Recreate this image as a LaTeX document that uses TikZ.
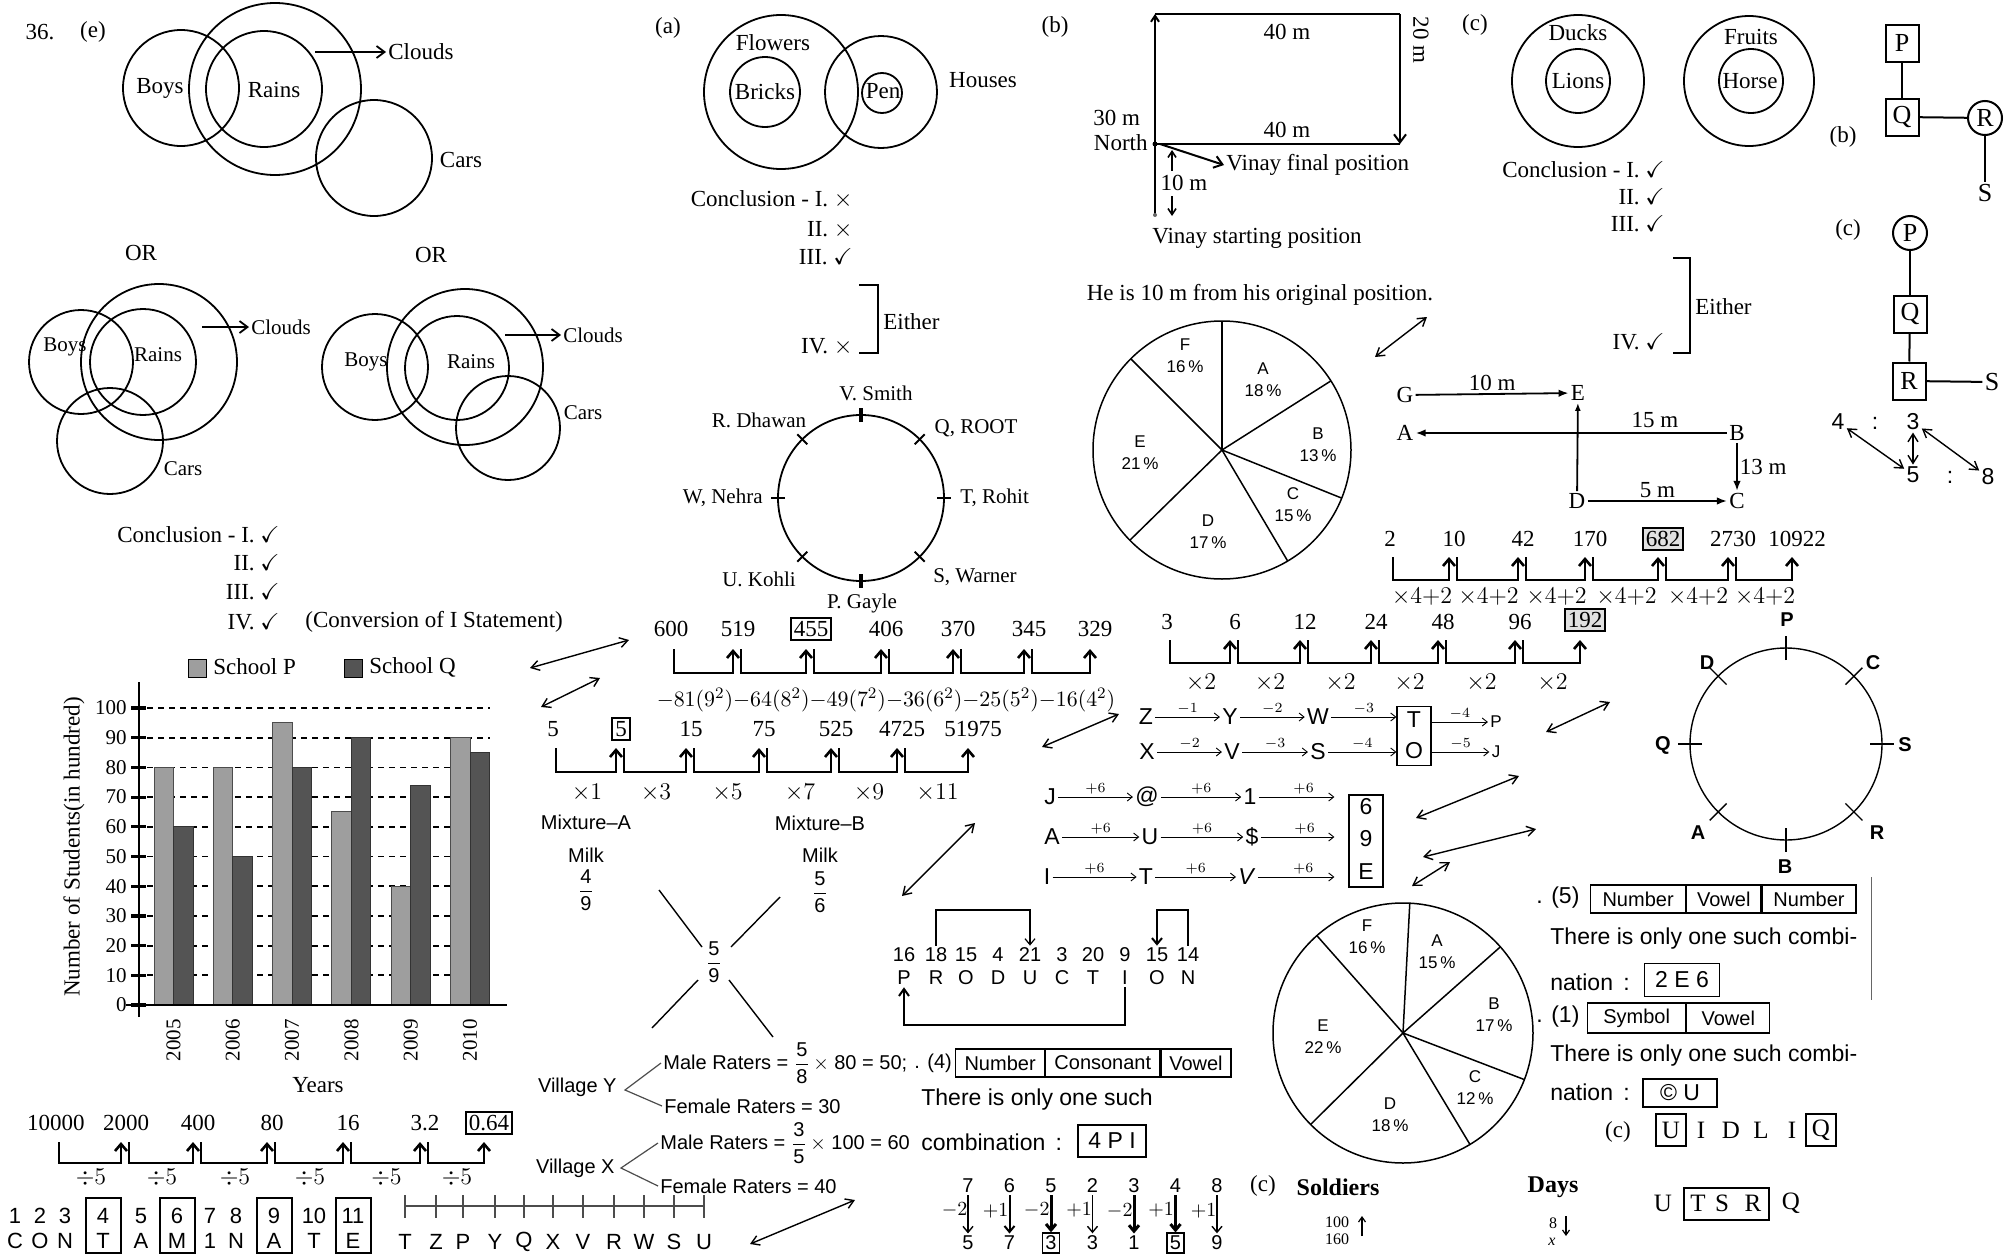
\documentclass[tikz,border=0pt]{standalone}
\usepackage{amsmath,amssymb}
\usepackage{fontspec}
\setmainfont{Liberation Serif}
\setsansfont{Liberation Sans}
\usetikzlibrary{arrows.meta,calc}
\definecolor{barP}{gray}{0.62}
\definecolor{barQ}{gray}{0.33}
\begin{document}
\begin{tikzpicture}[x=0.5pt,y=-0.5pt,
  every node/.style={inner sep=1pt},
  serifl/.style={font=\fontsize{11.5}{13}\selectfont},
  serifm/.style={font=\fontsize{10.5}{12}\selectfont},
  serifs/.style={font=\fontsize{8}{9}\selectfont},
  sansl/.style={font=\sffamily\fontsize{11.5}{13}\selectfont},
  sansm/.style={font=\sffamily\fontsize{10}{12}\selectfont},
  sanss/.style={font=\sffamily\fontsize{8.5}{11}\selectfont},
  sanst/.style={font=\sffamily\fontsize{7.5}{8}\selectfont},
  plainnum/.style={},
  vennline/.style={line width=0.9pt},
  vennarr/.style={line width=0.9pt,-{Straight Barb[length=4pt,width=6pt]}},
  seqjump/.style={line width=1.3pt,-{Straight Barb[length=3.5pt,width=6pt]}},
  boxnum/.style={draw,line width=0.9pt,inner sep=1.5pt},
  shiftarr/.style={line width=0.45pt,-{Straight Barb[length=2.5pt,width=4pt]}},
  dblarr/.style={line width=0.7pt,{Straight Barb[length=4pt,width=5pt]}-{Straight Barb[length=4pt,width=5pt]}},
  walkline/.style={line width=1pt},
  pieline/.style={line width=0.75pt},
  seattick/.style={line width=0.9pt},
  tabcell/.style={draw,line width=0.6pt,minimum height=14pt,inner sep=0pt,anchor=west,font=\sffamily\fontsize{10}{12}\selectfont},
  ansbox/.style={draw,line width=0.7pt,inner sep=0pt},
  gridline/.style={dash pattern=on 3pt off 2.5pt,line width=0.9pt},
]
\fill[white] (0,0) rectangle (2010,1258);
\useasboundingbox (0,0) rectangle (2010,1258);

% ---- 36 (e): Venn diagrams
\node[serifl] (q36) at (40,32) {36.};
\node[serifl] (e36) at (93,32) {(e)};
\draw[vennline] (181,88) circle[radius=58] (275,89) circle[radius=86]
  (264,89) circle[radius=58] (374,158) circle[radius=58];
\node[serifl] (boys1) at (160,88) {Boys};
\node[serifl] (rains1) at (274,90) {Rains};
\node[serifl,anchor=west] (clouds1) at (386,52) {Clouds};
\node[serifl] (cars1) at (461,160) {Cars};
\coordinate (tail1) at (315,52);
\draw[vennarr] (tail1) -- (clouds1.west);
\node[serifl] (or1) at (141,253) {OR};
\node[serifl] (or2) at (431,255) {OR};

\draw[vennline] (81,362) circle[radius=52] (159,362) circle[radius=78]
  (143,362) circle[radius=53] (110,441) circle[radius=53];
\node[serifm] (boys2) at (65,347) {Boys};
\node[serifm] (rains2) at (158,355) {Rains};
\node[serifm,anchor=west] (clouds2) at (249,327) {Clouds};
\node[serifm] (cars2) at (183,469) {Cars};
\coordinate (tail2) at (202,327);
\draw[vennarr] (tail2) -- (clouds2.west);

\draw[vennline] (375,367) circle[radius=53] (465,367) circle[radius=78]
  (457,368) circle[radius=52] (508,428) circle[radius=52];
\node[serifm] (boys3) at (366,362) {Boys};
\node[serifm] (rains3) at (471,362) {Rains};
\node[serifm,anchor=west] (clouds3) at (561,335) {Clouds};
\node[serifm] (cars3) at (583,413) {Cars};
\coordinate (tail3) at (505,335);
\draw[vennarr] (tail3) -- (clouds3.west);

\node[serifl,anchor=east] (con1a) at (282,535) {Conclusion - I. $\checkmark$};
\node[serifl,anchor=east] (con1b) at (282,563) {II. $\checkmark$};
\node[serifl,anchor=east] (con1c) at (282,592) {III. $\checkmark$};
\node[serifl,anchor=east] (con1d) at (282,622) {IV. $\checkmark$};
\node[serifl,anchor=west] (con1e) at (303,622) {(Conversion of I Statement)};

% ---- bar chart
\foreach \v in {10,20,...,100}
  \draw[gridline] (147,{1005-2.97*\v}) -- (490,{1005-2.97*\v});
\foreach \p/\q/\yr [count=\i from 0] in {80/60/2005,80/50/2006,95/80/2007,65/90/2008,40/74/2009,90/85/2010}{
  \pgfmathsetmacro{\xa}{154+59.3*\i}
  \draw[fill=barP,draw=black!70,line width=0.5pt] (\xa,1005) rectangle ({\xa+19.5},{1005-2.97*\p});
  \draw[fill=barQ,draw=black!80,line width=0.5pt] ({\xa+19.5},1005) rectangle ({\xa+39},{1005-2.97*\q});
  \node[serifm,rotate=90] (yr\yr) at ({\xa+19.5},1040) {\yr};
}
\draw[line width=1.3pt] (139,1017) -- (139,682);
\draw[line width=1pt] (126,1005) -- (507,1005);
\foreach \v in {0,10,...,100}{
  \draw[line width=1.6pt] (131,{1005-2.97*\v}) -- (146,{1005-2.97*\v});
  \node[serifm,anchor=east] (yt\v) at (129,{1005-2.97*\v}) {\v};
}
\node[draw,fill=barP,minimum width=9pt,minimum height=9pt,inner sep=0pt] (legP) at (197,668) {};
\node[serifl,anchor=west] (legPt) at (211,667) {School P};
\node[draw,fill=barQ,minimum width=9pt,minimum height=9pt,inner sep=0pt] (legQ) at (353,668) {};
\node[serifl,anchor=west] (legQt) at (367,667) {School Q};
\node[serifl,rotate=90] (ylab) at (74,847) {Number of Students(in hundred)};
\node[serifl] (xlab) at (318,1085) {Years};

% ---- series divided by 5
\foreach \v/\x/\s [count=\i] in {10000/56/plainnum,2000/126/plainnum,400/198/plainnum,80/272/plainnum,16/348/plainnum,3.2/425/plainnum,0.64/489/boxnum}
  \node[serifl,\s] (d\i) at (\x,1123) {\v};
\coordinate (dT) at (0,1142); \coordinate (dB) at (0,1163); \coordinate (dO) at (0,1178);
\foreach \j/\k in {d1/d2,d2/d3,d3/d4,d4/d5,d5/d6,d6/d7}{
  \draw[seqjump] ($(\j |- dT)+(3,0)$) |- ($(\k |- dB)+(-5,0)$) -- ($(\k |- dT)+(-5,0)$);
  \node[serifl] (o\j) at ($(\j |- dO)!0.5!(\k |- dO)$) {$\div5$};
}

% ---- numbered letters
\foreach \n/\l/\x [count=\i] in {1/C/15,2/O/40,3/N/65,4/T/103,5/A/141,6/M/177,7/1/210,8/N/236,9/A/274,10/T/314,11/E/353}{
  \node[font=\sffamily\fontsize{11}{13}\selectfont] (cn\i) at (\x,1216) {\n};
  \node[font=\sffamily\fontsize{11}{13}\selectfont] (cl\i) at (\x,1241) {\l};
}
\foreach \i in {4,6,9,11}
  \draw[line width=0.7pt] ($(cn\i)+(-17,-18)$) rectangle ($(cl\i)+(18,12)$);
\draw[line width=0.6pt,black!70] (404,1206) -- (704,1206);
\foreach \l/\x [count=\i] in {T/405,Z/436,P/463,Y/495,Q/524,X/553,V/583,R/614,W/644,S/674,U/704}{
  \node[font=\sffamily\fontsize{11}{13}\selectfont] (nl\i) at (\x,1242) {\l};
  \draw[line width=0.6pt,black!70] (\x,1195) -- (\x,1218);
}

% ---- (a)
\node[serifl] (qa) at (668,28) {(a)};
\draw[vennline] (781,92) circle[radius=77] (765,92) circle[radius=35]
  (881,92) circle[radius=56] (882,93) circle[radius=20];
\node[serifl] (flowers) at (773,43) {Flowers};
\node[serifl] (bricks) at (765,92) {Bricks};
\node[serifl] (pen) at (883,91) {Pen};
\node[serifl] (houses) at (983,80) {Houses};
\node[serifl,anchor=east] (con2a) at (855,200) {Conclusion - I. $\times$};
\node[serifl,anchor=east] (con2b) at (855,230) {II. $\times$};
\node[serifl,anchor=east] (con2c) at (855,257) {III. $\checkmark$};
\node[serifl,anchor=east] (con2d) at (855,347) {IV. $\times$};
\draw[line width=1pt] (859,285) -- (878,285) -- (878,353) -- (859,353);
\node[serifl,anchor=west] (either2) at (881,322) {Either};

% ---- seating circle
\coordinate (seat) at (861,498);
\draw[line width=0.9pt] (seat) circle[radius=83];
\foreach \a in {0,45,...,315} \draw[seattick] (seat) ++(\a:76) -- ++(\a:14);
\foreach \a in {90,270} \draw[line width=2pt] (seat) ++(\a:76) -- ++(\a:14);
\node[serifm] (smith) at (876,393) {V. Smith};
\node[serifm] (dhawan) at (759,420) {R. Dhawan};
\node[serifm] (root) at (976,428) {Q, ROOT};
\node[serifm,anchor=east] (nehra) at (765,498) {W, Nehra};
\node[serifm,anchor=west] (rohit) at (958,498) {T, Rohit};
\node[serifm] (kohli) at (759,579) {U. Kohli};
\node[serifm] (warner) at (975,577) {S, Warner};
\node[serifm] (gayle) at (862,603) {P. Gayle};

% ---- series of squares
\foreach \v/\x/\s [count=\i] in {600/671/plainnum,519/738/plainnum,455/811/boxnum,406/886/plainnum,370/958/plainnum,345/1029/plainnum,329/1095/plainnum}
  \node[serifl,\s] (a\i) at (\x,629) {\v};
\coordinate (aT) at (0,649); \coordinate (aB) at (0,673);
\foreach \j/\k in {a1/a2,a2/a3,a3/a4,a4/a5,a5/a6,a6/a7}
  \draw[seqjump] ($(\j |- aT)+(3,0)$) |- ($(\k |- aB)+(-5,0)$) -- ($(\k |- aT)+(-5,0)$);
\node[font=\fontsize{11}{13}\selectfont] (sqrs) at (886,700) {$-81(9^2){-}64(8^2){-}49(7^2){-}36(6^2){-}25(5^2){-}16(4^2)$};

% ---- series of odd multiples
\foreach \v/\x/\s [count=\i] in {5/553/plainnum,5/621/boxnum,15/691/plainnum,75/764/plainnum,525/836/plainnum,4725/902/plainnum,51975/973/plainnum}
  \node[serifl,\s] (m\i) at (\x,729) {\v};
\coordinate (mT) at (0,748); \coordinate (mB) at (0,772); \coordinate (mO) at (0,793);
\foreach \j/\k/\t in {m1/m2/1,m2/m3/3,m3/m4/5,m4/m5/7,m5/m6/9,m6/m7/11}{
  \draw[seqjump] ($(\j |- mT)+(3,0)$) |- ($(\k |- mB)+(-5,0)$) -- ($(\k |- mT)+(-5,0)$);
  \node[serifl] (o\j) at ($(\j |- mO)!0.5!(\k |- mO)$) {$\times\t$};
}

% ---- mixtures
\node[sansm] (mixA) at (586,822) {Mixture–A};
\node[sansm] (mixB) at (820,823) {Mixture–B};
\node[sansm] (milkA) at (586,855) {Milk};
\node[sansm] (milkB) at (820,855) {Milk};
\node[sansm] (fracA) at (586,890) {$\dfrac{\mathsf{4}}{\mathsf{9}}$};
\node[sansm] (fracB) at (820,892) {$\dfrac{\mathsf{5}}{\mathsf{6}}$};
\node[sansm] (fracM) at (714,962) {$\dfrac{\mathsf{5}}{\mathsf{9}}$};
\draw[line width=0.7pt] (fracM) ++(-12,-15) -- ++(-43,-57);
\draw[line width=0.7pt] (fracM) ++(17,-15) -- ++(49,-50);
\draw[line width=0.7pt] (fracM) ++(-16,18) -- ++(-46,48);
\draw[line width=0.7pt] (fracM) ++(15,18) -- ++(44,57);

% ---- raters
\node[sansm,anchor=east] (vilY) at (619,1087) {Village Y};
\coordinate (vY) at (625,1090);
\node[sansm,anchor=west] (maleY) at (661,1063) {Male Raters = $\dfrac{\mathsf{5}}{\mathsf{8}}$\,$\times$ 80 = 50;};
\node[sansm,anchor=west] (femY) at (662,1106) {Female Raters = 30};
\draw[line width=0.6pt,black!70] (maleY.west) -- (vY) -- (femY.west);
\node[sansm,anchor=east] (vilX) at (617,1168) {Village X};
\coordinate (vX) at (621,1168);
\node[sansm,anchor=west] (maleX) at (658,1143) {Male Raters = $\dfrac{\mathsf{3}}{\mathsf{5}}$\,$\times$ 100 = 60};
\node[sansm,anchor=west] (femX) at (658,1186) {Female Raters = 40};
\draw[line width=0.6pt,black!70] (maleX.west) -- (vX) -- (femX.west);

% ---- (4) table
\node[sansm,anchor=west] (dot4) at (912,1063) {. (4)};
\node[tabcell,minimum width=44.5pt] (t4a) at (955,1063) {Number};
\node[tabcell,minimum width=57pt] (t4b) at (t4a.east) {Consonant};
\node[tabcell,minimum width=35pt] (t4c) at (t4b.east) {Vowel};
\node[sansl,anchor=west] (only4) at (919,1100) {There is only one such};
\node[sansl,anchor=west] (comb4) at (919,1142) {combination \,:};
\node[ansbox,sansl,minimum width=34pt,minimum height=16pt] (ans4) at (1112,1141) {4 P I};

% ---- PRODUCTION
\foreach \n/\l/\x [count=\i] in {16/P/904,18/R/936,15/O/966,4/D/998,21/U/1030,3/C/1062,20/T/1093,9/I/1125,15/O/1157,14/N/1188}{
  \node[sansm] (pn\i) at (\x,955) {\n};
  \node[sansm] (pl\i) at (\x,978) {\l};
}
\coordinate (prtop) at (0,910);
\coordinate (prbot) at (0,1025);
\draw[line width=0.6pt,-{Straight Barb[length=3pt,width=5pt]}] (pn2.north) -- (pn2.north |- prtop) -| (pn5.north);
\draw[line width=1pt,-{Straight Barb[length=3pt,width=5pt]}] (pn10.north) -- (pn10.north |- prtop) -| (pn9.north);
\draw[line width=1pt,-{Straight Barb[length=3.5pt,width=5pt]}] (pl8.south) -- (pl8.south |- prbot) -| (pl1.south);

% ---- digits
\foreach \t/\b/\o/\w/\s [count=\i] in {7/5/$-2$/0.7/plainnum,6/7/$+1$/1/plainnum,5/3/$-2$/1.5/boxnum,2/3/$+1$/0.7/plainnum,3/1/$-2$/1.5/plainnum,4/5/$+1$/1.5/boxnum,8/9/$+1$/0.7/plainnum}{
  \node[sansm] (ut\i) at ({926.5+41.5*\i},1186) {\t};
  \node[sansm,\s,line width=0.6pt] (ub\i) at ({926.5+41.5*\i},1243) {\b};
  \draw[line width=\w pt,-{Straight Barb[length=3pt,width=5pt]}] (ut\i) -- node[left,sansm,xshift=1pt,yshift=2pt] {\o} (ub\i);
}

% ---- (b) Vinay
\node[serifl] (qb) at (1055,27) {(b)};
\coordinate (vstart) at (1155,215);
\coordinate (vtl) at (1155,14);
\coordinate (vtr) at (1400,14);
\coordinate (vbr) at (1400,144);
\coordinate (vbl) at (1155,144);
\draw[walkline,-{Straight Barb[length=3pt,width=4pt]}] (vstart) -- (vtl);
\draw[walkline] (vtl) -- (vtr);
\draw[walkline,-{Straight Barb[length=4pt,width=6pt]}] (vtr) -- (vbr);
\draw[walkline] (vbr) -- (vbl);
\fill (vbl) circle[radius=2.5];
\fill[black!60] (vstart) circle[radius=2];
\node[serifl] (w40a) at (1287,32) {40 m};
\node[serifl] (w40b) at (1287,130) {40 m};
\node[serifl,rotate=-90] (w20) at (1421,40) {20 m};
\node[serifl,anchor=west] (w30) at (1091,118) {30 m};
\node[serifl,anchor=east] (north) at (1150,143) {North};
\node[serifl,anchor=west] (vfin) at (1224,165) {Vinay final position};
\draw[walkline,-{Straight Barb[length=4pt,width=6pt]}] (vbl) ++(5,0) -- (vfin.west);
\node[serifl] (w10) at (1184,183) {10 m};
\draw[line width=0.8pt,-{Straight Barb[length=3pt,width=4pt]}] (w10.north -| 1172,0) ++(0,-2) -- (1172,150);
\draw[line width=0.8pt,-{Straight Barb[length=3pt,width=4pt]}] (1172,196) -- (1172,216);
\node[serifl] (vst) at (1257,238) {Vinay starting position};
\node[serifl] (vres) at (1260,295) {He is 10 m from his original position.};

% ---- pie charts
\coordinate (pieA) at (1222,450);
\draw[pieline] (pieA) circle[radius=129];
\foreach \a in {-90,-32.4,21.9,59.4,135.6,-135} \draw[pieline] (pieA) -- ++(\a:129);
\foreach \n/\p/\x/\y in {F/16/1185/356,A/18/1263/380,B/13/1318/445,C/15/1293/505,D/17/1208/532,E/21/1140/453}
  \node[sanss,align=center] (pa\n) at (\x,\y) {\n\\\p\,\%};
\coordinate (pieB) at (1403,1033);
\draw[pieline] (pieB) circle[radius=130];
\foreach \a in {-87,-41.5,21,59,135.3,-131.5} \draw[pieline] (pieB) -- ++(\a:130);
\foreach \n/\p/\x/\y in {F/16/1367/937,A/15/1437/952,B/17/1494/1015,C/12/1475/1088,D/18/1390/1115,E/22/1323/1037}
  \node[sanss,align=center] (pb\n) at (\x,\y) {\n\\\p\,\%};

% ---- (c) Venn
\node[serifl] (qc) at (1475,25) {(c)};
\draw[vennline] (1578,81) circle[radius=66] (1578,81) circle[radius=32]
  (1749,81) circle[radius=65] (1751,81) circle[radius=32];
\node[serifl] (ducks) at (1578,33) {Ducks};
\node[serifl] (lions) at (1578,81) {Lions};
\node[serifl] (fruits) at (1751,37) {Fruits};
\node[serifl] (horse) at (1750,81) {Horse};
\node[serifl,anchor=east] (con3a) at (1667,170) {Conclusion - I. $\checkmark$};
\node[serifl,anchor=east] (con3b) at (1667,197) {II. $\checkmark$};
\node[serifl,anchor=east] (con3c) at (1667,224) {III. $\checkmark$};
\node[serifl,anchor=east] (con3d) at (1667,342) {IV. $\checkmark$};
\draw[line width=1pt] (1673,258) -- (1690,258) -- (1690,353) -- (1673,353);
\node[serifl,anchor=west] (either3) at (1693,307) {Either};

% ---- family trees
\tikzset{famsq/.style={draw,line width=1pt,minimum width=16.5pt,minimum height=18.5pt,inner sep=0pt,font=\fontsize{13}{15}\selectfont},
  famci/.style={draw,circle,line width=1pt,minimum size=17pt,inner sep=0pt,font=\fontsize{13}{15}\selectfont}}
\node[serifl] (tb) at (1843,137) {(b)};
\node[famsq] (fbP) at (1902,43) {P};
\node[famsq] (fbQ) at (1902,117) {Q};
\node[famci] (fbR) at (1985,118) {R};
\node[font=\fontsize{13}{15}\selectfont] (fbS) at (1985,193) {S};
\draw[line width=1pt] (fbP) -- (fbQ);
\draw[line width=1pt] (fbQ) -- (fbR);
\draw[line width=1pt] (fbR) -- (fbS);
\node[serifl] (tc) at (1848,230) {(c)};
\node[famci] (fcP) at (1910,233) {P};
\node[famsq] (fcQ) at (1910,314) {Q};
\node[famsq] (fcR) at (1909,381) {R};
\node[font=\fontsize{13}{15}\selectfont] (fcS) at (1992,382) {S};
\draw[line width=1pt] (fcP) -- (fcQ);
\draw[line width=1pt] (fcQ) -- (fcR);
\draw[line width=1pt] (fcR) -- (fcS);

% ---- ratio
\node[sansl] (r4) at (1838,422) {4};
\node[sansl] (rc1) at (1875,423) {:};
\node[sansl] (r3) at (1913,422) {3};
\node[sansl] (r5) at (1913,475) {5};
\node[sansl] (rc2) at (1950,477) {:};
\node[sansl] (r8) at (1988,477) {8};
\draw[dblarr] (r4) -- (r5);
\draw[dblarr] (r3) -- (r5);
\draw[dblarr] (r3) -- (r8);

% ---- directions
\node[serifl] (dG) at (1405,395) {G};
\node[serifl] (dE) at (1578,393) {E};
\node[serifl] (dA) at (1405,433) {A};
\node[serifl] (dB) at (1737,433) {B};
\node[serifl] (dD) at (1577,501) {D};
\node[serifl] (dC) at (1737,501) {C};
\draw[line width=0.9pt,-{Latex[length=5pt]}] (dG) -- node[above,serifl] {10 m} (dE);
\draw[line width=0.9pt,-{Latex[length=5pt]}] (dB) -- (dA);
\node[serifl] (d15) at (1655,420) {15 m};
\draw[line width=0.9pt,-{Latex[length=5pt]}] (dD) -- node[above,serifl] {5 m} (dC);
\draw[line width=0.9pt,-{Latex[length=5pt]}] (dB) -- node[right,serifl] {13 m} (dC);
\draw[line width=0.9pt,-{Latex[length=4pt]}] (dD) -- (dE);

% ---- series x4+2
\foreach \v/\x/\s [count=\i] in {2/1390/plainnum,10/1454/plainnum,42/1523/plainnum,170/1590/plainnum,682/1663/boxnum,2730/1733/plainnum,10922/1797/plainnum}
  \node[serifl,\s,fill=white] (k\i) at (\x,539) {\v};
\node[draw,line width=0.9pt,fill=black!12,inner sep=1.5pt,serifl] (k5) at (1663,539) {682};
\coordinate (kT) at (0,557); \coordinate (kB) at (0,580); \coordinate (kO) at (0,597);
\foreach \j/\k in {k1/k2,k2/k3,k3/k4,k4/k5,k5/k6,k6/k7}{
  \draw[seqjump] ($(\j |- kT)+(3,0)$) |- ($(\k |- kB)+(-5,0)$) -- ($(\k |- kT)+(-5,0)$);
  \node[serifl] (o\j) at ($(\j |- kO)!0.5!(\k |- kO)$) {$\times4{+}2$};
}

% ---- series x2
\foreach \v/\x/\s [count=\i] in {3/1167/plainnum,6/1235/plainnum,12/1305/plainnum,24/1376/plainnum,48/1443/plainnum,96/1520/plainnum}
  \node[serifl,\s] (n\i) at (\x,622) {\v};
\node[draw,line width=0.9pt,fill=black!12,inner sep=1.5pt,serifl] (n7) at (1585,620) {192};
\coordinate (nT) at (0,640); \coordinate (nB) at (0,663); \coordinate (nO) at (0,683);
\foreach \j/\k in {n1/n2,n2/n3,n3/n4,n4/n5,n5/n6,n6/n7}{
  \draw[seqjump] ($(\j |- nT)+(3,0)$) |- ($(\k |- nB)+(-5,0)$) -- ($(\k |- nT)+(-5,0)$);
  \node[serifl] (o\j) at ($(\j |- nO)!0.5!(\k |- nO)$) {$\times2$};
}

% ---- letter shifts
\foreach \n/\l/\x/\y in {z1/Z/1146/717,z2/Y/1230/717,z3/W/1318/717,z4/X/1147/752,z5/V/1232/752,z6/S/1318/752}
  \node[sansl] (\n) at (\x,\y) {\l};
\node[sanss] (z7) at (1496,722) {P};
\node[sanss] (z8) at (1496,752) {J};
\node[draw,line width=0.6pt,minimum width=17pt,minimum height=29.5pt] (tobox) at (1414,736) {};
\node[sansl] (tT) at (1414,720) {T};
\node[sansl] (tO) at (1414,751) {O};
\draw[shiftarr] (z1) -- node[above,sanst] {$-1$} (z2);
\draw[shiftarr] (z2) -- node[above,sanst] {$-2$} (z3);
\draw[shiftarr] (z3) -- node[above,sanst] {$-3$} (z3 -| tobox.west);
\draw[shiftarr] (tobox.east |- z7) -- node[above,sanst] {$-4$} (z7);
\draw[shiftarr] (z4) -- node[above,sanst] {$-2$} (z5);
\draw[shiftarr] (z5) -- node[above,sanst] {$-3$} (z6);
\draw[shiftarr] (z6) -- node[above,sanst] {$-4$} (z6 -| tobox.west);
\draw[shiftarr] (tobox.east |- z8) -- node[above,sanst] {$-5$} (z8);

\foreach \n/\l/\x/\y in {j1/J/1050/797,j2/@/1147/797,j3/1/1250/797,j4/A/1052/837,j5/U/1150/837,j6/\$/1252/837,j7/I/1047/877,j8/T/1146/877,j9/\textit{V}/1247/877}
  \node[sansl] (\n) at (\x,\y) {\l};
\node[draw,line width=0.6pt,minimum width=17pt,minimum height=46pt] (sixbox) at (1366,841) {};
\node[sansl] (b6) at (1366,807) {6};
\node[sansl] (b9) at (1366,839) {9};
\node[sansl] (bE) at (1366,872) {E};
\foreach \a/\b in {j1/j2,j2/j3,j4/j5,j5/j6,j7/j8,j8/j9}
  \draw[shiftarr] (\a) -- node[above,sanst] {$+6$} (\b);
\foreach \a in {j3,j6,j9}
  \draw[shiftarr,shorten >=7pt] (\a) -- node[above,sanst] {$+6$} (\a -| sixbox.west);

% ---- (5) and (1)
\node[sansl,anchor=west] (dot5) at (1534,898) {. (5)};
\node[tabcell,minimum width=47.5pt] (t5a) at (1590,899) {Number};
\node[tabcell,minimum width=37pt] (t5b) at (t5a.east) {Vowel};
\node[tabcell,minimum width=47pt] (t5c) at (t5b.east) {Number};
\node[sansl,anchor=west] (only5) at (1548,939) {There is only one such combi-};
\node[sansl,anchor=west] (nat5) at (1548,982) {nation \,:};
\node[ansbox,sansl,minimum width=37.5pt,minimum height=16.5pt] (ans5) at (1682,980) {2 E 6};
\draw[line width=0.5pt,black!60] (1871,877) -- (1871,1000);
\node[sansl,anchor=west] (dot1) at (1534,1017) {. (1)};
\node[tabcell,minimum width=49pt,minimum height=15pt] (t1a) at (1587,1018) {Symbol};
\node[tabcell,minimum width=41.5pt,minimum height=15pt] (t1b) at (t1a.east) {Vowel};
\node[sansl,anchor=west] (only1) at (1548,1056) {There is only one such combi-};
\node[sansl,anchor=west] (nat1) at (1548,1092) {nation \,:};
\node[ansbox,sansl,minimum width=37pt,minimum height=14pt] (ans1) at (1680,1093) {© U};

\node[serifl] (cc1) at (1618,1132) {(c)};
\node[draw,line width=1.2pt,minimum width=15pt,minimum height=16pt,inner sep=0pt,font=\fontsize{12.5}{14}\selectfont] (cU) at (1671,1130) {U};
\foreach \l/\x [count=\i] in {I/1701,D/1731,L/1761,I/1792}
  \node[font=\fontsize{12.5}{14}\selectfont] (cm\i) at (\x,1130) {\l};
\node[draw,line width=1.2pt,minimum width=15pt,minimum height=16pt,inner sep=0pt,font=\fontsize{12.5}{14}\selectfont] (cQ) at (1821,1130) {Q};

\node[font=\bfseries\fontsize{12}{14}\selectfont] (days) at (1553,1187) {Days};
\node[serifs] (d8) at (1553,1223) {8};
\node[serifs] (dx) at (1552,1242) {\textit{x}};
\draw[line width=0.6pt,-{Straight Barb[length=2.5pt,width=3.5pt]}] (1566,1216) -- (1566,1236);
\node[font=\fontsize{12.5}{14}\selectfont] (uU) at (1663,1203) {U};
\node[draw,line width=1pt,minimum width=42.5pt,minimum height=16pt,inner sep=0pt] (tsr) at (1726,1204) {};
\foreach \l/\x [count=\i] in {T/1698,S/1722,R/1753}
  \node[font=\fontsize{12.5}{14}\selectfont] (us\i) at (\x,1203) {\l};
\node[font=\fontsize{12.5}{14}\selectfont] (uQ) at (1791,1203) {Q};

\node[serifl] (cc2) at (1263,1186) {(c)};
\node[font=\bfseries\fontsize{12}{14}\selectfont] (sold) at (1338,1187) {Soldiers};
\node[serifs] (s100) at (1337,1222) {100};
\node[serifs] (s160) at (1337,1239) {160};
\draw[line width=0.6pt,-{Straight Barb[length=2.5pt,width=3.5pt]}] (1362,1236) -- (1362,1216);

% ---- cross arrows
\foreach \xa/\ya/\xb/\yb [count=\i] in {530/668/629/640,541/707/600/678,1042/747/1119/714,1546/732/1610/702,1416/818/1519/776,1423/857/1536/829,1412/886/1450/862,902/896/975/823,750/1244/855/1200,1375/357/1427/317}{
  \coordinate (xa\i) at (\xa,\ya);
  \coordinate (xb\i) at (\xb,\yb);
  \draw[dblarr] (xa\i) -- (xb\i);
}

% ---- circle P D C Q S A R B
\coordinate (ring) at (1786,744);
\draw[line width=0.7pt] (ring) circle[radius=96];
\foreach \a in {0,45,...,315} \draw[line width=0.7pt] (ring) ++(\a:84) -- ++(\a:24);
\foreach \l/\x/\y in {P/1787/620,D/1707/663,C/1873/663,Q/1663/745,S/1905/745,A/1698/833,R/1877/833,B/1785/867}
  \node[sansm,font=\sffamily\bfseries\fontsize{10}{12}\selectfont] (ring\l) at (\x,\y) {\l};
\end{tikzpicture}
\end{document}
